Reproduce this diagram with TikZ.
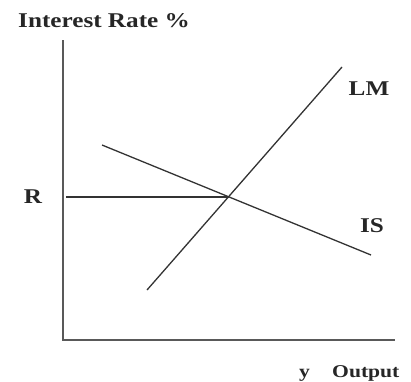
\documentclass[tikz,border=0pt]{standalone}
\usepackage{fontspec}
\setmainfont{Liberation Serif}[FakeStretch=1.2]
\begin{document}
\begin{tikzpicture}[x=1pt,y=-1pt,
  axis/.style={draw=black!65, line width=1.8pt},
  curve/.style={draw=black!80, line width=1.3pt},
  lbl/.style={font=\bfseries\fontsize{21}{24}\selectfont, inner sep=0pt, text=black!85},
  slbl/.style={font=\bfseries\fontsize{18}{21}\selectfont, inner sep=0pt, text=black!85}]
\useasboundingbox (0,0) rectangle (411,381);
\coordinate (top) at (63,40);
\coordinate (origin) at (63,340);
\coordinate (xend) at (395,340);
\draw[axis] (top) -- (origin) -- (xend);
\coordinate (rstart) at (66,197);
\coordinate (eq) at (229,197);
\draw[curve] (rstart) -- (eq);
\coordinate (lm1) at (147,290);
\coordinate (lm2) at (342,67);
\draw[curve] (lm1) -- (lm2);
\coordinate (is1) at (102,145);
\coordinate (is2) at (371,255);
\draw[curve] (is1) -- (is2);
\node[lbl, anchor=base west] (title) at (18,27) {Interest Rate \%};
\node[lbl] (r) at (33,197) {R};
\node[lbl] (lm) at (369,89) {LM};
\node[lbl] (is) at (372,226) {IS};
\node[slbl, anchor=base west] (y) at (299,377) {y};
\node[slbl, anchor=base west] (out) at (332,377) {Output};
\end{tikzpicture}
\end{document}
